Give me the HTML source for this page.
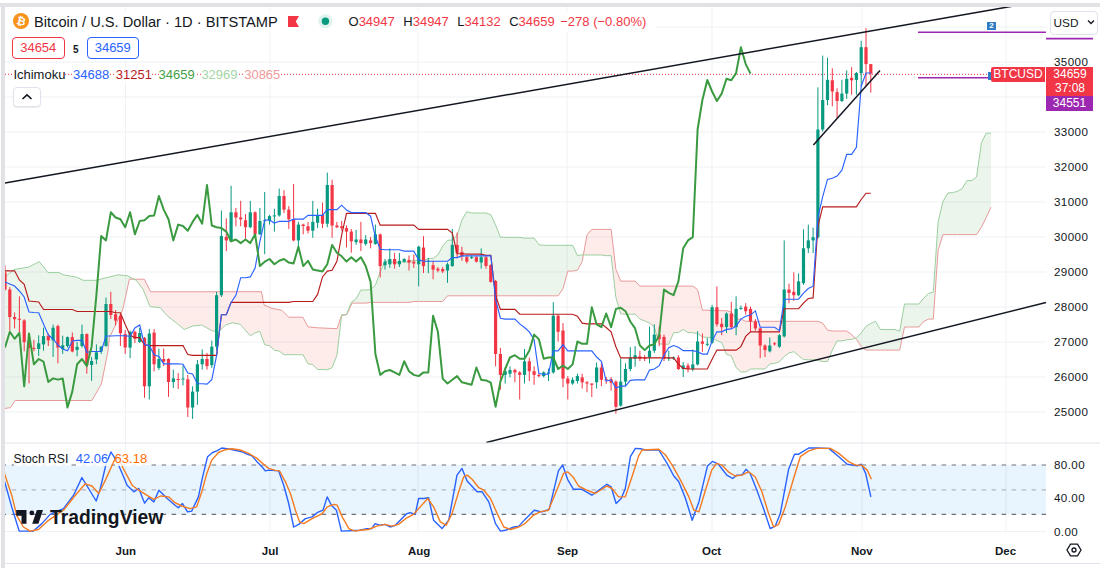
<!DOCTYPE html>
<html><head><meta charset="utf-8">
<style>
html,body{margin:0;padding:0;width:1100px;height:568px;overflow:hidden;background:#fff;}
body{position:relative;font-family:"Liberation Sans",sans-serif;color:#131722;}
.abs{position:absolute;white-space:nowrap;}
svg{position:absolute;left:0;top:0;}
.ax{position:absolute;font-size:11.6px;letter-spacing:0.4px;color:#131722;left:1054px;line-height:14px;}
.tx{position:absolute;font-size:11.5px;font-weight:bold;color:#131722;line-height:14px;}
</style></head><body>
<svg width="1100" height="568" viewBox="0 0 1100 568">
<line x1="5" y1="412" x2="1046" y2="412" stroke="#eff1f5" stroke-width="1"/>
<line x1="5" y1="377" x2="1046" y2="377" stroke="#eff1f5" stroke-width="1"/>
<line x1="5" y1="342" x2="1046" y2="342" stroke="#eff1f5" stroke-width="1"/>
<line x1="5" y1="307" x2="1046" y2="307" stroke="#eff1f5" stroke-width="1"/>
<line x1="5" y1="272" x2="1046" y2="272" stroke="#eff1f5" stroke-width="1"/>
<line x1="5" y1="237" x2="1046" y2="237" stroke="#eff1f5" stroke-width="1"/>
<line x1="5" y1="202" x2="1046" y2="202" stroke="#eff1f5" stroke-width="1"/>
<line x1="5" y1="167" x2="1046" y2="167" stroke="#eff1f5" stroke-width="1"/>
<line x1="5" y1="132" x2="1046" y2="132" stroke="#eff1f5" stroke-width="1"/>
<line x1="5" y1="97" x2="1046" y2="97" stroke="#eff1f5" stroke-width="1"/>
<line x1="5" y1="62" x2="1046" y2="62" stroke="#eff1f5" stroke-width="1"/>
<line x1="5" y1="27" x2="1046" y2="27" stroke="#eff1f5" stroke-width="1"/>
<line x1="125.5" y1="7" x2="125.5" y2="532" stroke="#eff1f5" stroke-width="1"/>
<line x1="270" y1="7" x2="270" y2="532" stroke="#eff1f5" stroke-width="1"/>
<line x1="418" y1="7" x2="418" y2="532" stroke="#eff1f5" stroke-width="1"/>
<line x1="567" y1="7" x2="567" y2="532" stroke="#eff1f5" stroke-width="1"/>
<line x1="712" y1="7" x2="712" y2="532" stroke="#eff1f5" stroke-width="1"/>
<line x1="862" y1="7" x2="862" y2="532" stroke="#eff1f5" stroke-width="1"/>
<line x1="1006" y1="7" x2="1006" y2="532" stroke="#eff1f5" stroke-width="1"/>
<polygon points="5,277 10.3,272.6 14.2,269.4 15.1,269.3 28.4,267.2 39.3,261.7 48,272.6 59,272.6 63.3,274.8 77.5,277.4 83,280.3 91.9,280.3 96.1,280.3 101.4,279 104.8,278.1 107.8,277.3 109.4,276.9 117.9,274.8 122.6,275.3 127.2,275.7 129.4,276.8 134.1,279.2 134.1,279.2 129.4,279.2 127.2,289.2 122.6,310 117.9,319.9 109.4,337.9 107.8,352.2 104.8,367.1 101.4,383.9 96.1,393.2 91.9,400.5 83,400.5 77.5,400.5 63.3,400.5 59,400.5 48,400.5 39.3,400.5 28.4,400.5 15.1,400.5 14.2,401.9 10.3,407.7 5,408.4" fill="rgba(67,160,71,0.10)"/>
<polygon points="134.1,279.2 136.3,280.3 143.2,289.5 144.3,292.3 150,306.6 150.7,306.7 160.4,307.8 167.2,315.8 177.5,323.8 184.4,329.5 192.4,326.1 201.6,325 211.9,330.7 218.7,331.8 225.6,325 232.5,322.7 240.3,324.3 245.5,330.3 250.3,335.8 255.1,332.8 259.9,331.3 261.4,335.4 264,342.7 264.7,344.8 269.5,345.6 272,348 274.4,350.2 279.2,351.1 281.7,353 284,354.7 288.7,354.7 288.8,354.7 293.6,354.7 298.4,354.7 302.8,354.9 303.2,354.9 308,363.8 308.1,363.8 312.8,364.6 317.6,369.5 317.7,369.5 322.5,369.5 327.3,369.8 332.1,367.6 336.9,355.4 337.1,353.6 341.5,316.4 341.6,315.5 341.6,315.5 341.5,315.5 337.1,328.7 336.9,328.7 332.1,328.5 327.3,328.2 322.5,328 317.7,327.8 317.6,327.8 312.8,327.3 308.1,326.9 308,326.8 303.2,318 302.8,317.2 298.4,317.2 293.6,317.2 288.8,317.2 288.7,317.2 284,312.5 281.7,310.2 279.2,309.7 274.4,308.8 272,308.4 269.5,307.3 264.7,305.2 264,304.9 261.4,291.7 259.9,291.7 255.1,291.7 250.3,291.7 245.5,291.7 240.3,291.7 232.5,291.7 225.6,291.7 218.7,291.7 211.9,291.7 201.6,291.8 192.4,291.8 184.4,291.8 177.5,291.8 167.2,291.8 160.4,291.8 150.7,291.8 150,290.4 144.3,279.2 143.2,279.2 136.3,279.2 134.1,279.2" fill="rgba(244,67,54,0.10)"/>
<polygon points="341.6,315.5 341.7,314.7 346.2,314.7 346.2,314.7 341.7,315.5 341.6,315.5" fill="rgba(67,160,71,0.10)"/>
<polygon points="346.2,314.7 346.5,314.7 346.5,314.6 346.5,314.6 346.5,314.6 346.2,314.7" fill="rgba(244,67,54,0.10)"/>
<polygon points="346.5,314.6 346.8,314 351.3,302.4 352.1,301.8 356.1,298.8 360.9,290 365.7,290 366,290 370.6,289.6 375.4,285.2 380.2,271.9 385,261.2 389.8,261.2 394.6,262.7 399.4,261.9 404.2,261.9 409,261.9 413.8,260.3 418.7,260.3 423.5,260.3 428.3,258.4 433.1,258.4 437.9,254.9 442.7,246.1 447.5,240.4 452.3,239.9 457.1,235.5 461.9,220 466.8,211.7 471.6,213 476.4,213 481.2,213 486,213 490.8,214.8 495.6,225.1 500.4,237.2 505.2,237.4 510,237.4 514.9,237.4 519.7,237.4 524.5,238.1 529.3,238.1 534.1,238.1 538.9,244.7 543.7,245.3 548.5,245.3 553.3,245.3 558.1,245.3 563,245.3 567.8,245.3 572.6,245.3 577.4,255.6 582.2,254.8 583.4,254.8 583.4,254.8 582.2,261.4 577.4,270.2 572.6,271.1 567.8,271.1 563,288.7 558.1,295.8 553.3,295.8 548.5,295.8 543.7,295.8 538.9,295.8 534.1,295.8 529.3,295.8 524.5,295.8 519.7,295.8 514.9,295.8 510,295.8 505.2,295.8 500.4,295.8 495.6,295.8 490.8,295.8 486,295.8 481.2,295.8 476.4,295.8 471.6,295.8 466.8,295.8 461.9,295.8 457.1,295.8 452.3,295.8 447.5,295.8 442.7,301.5 437.9,301.5 433.1,301.5 428.3,301.5 423.5,301.5 418.7,301.5 413.8,301.5 409,302.4 404.2,302.4 399.4,302.4 394.6,302.4 389.8,302.4 385,302.4 380.2,302.4 375.4,302.4 370.6,302.4 366,303.1 365.7,303.1 360.9,303.1 356.1,303.1 352.1,303.1 351.3,304.8 346.8,314.6 346.5,314.6" fill="rgba(67,160,71,0.10)"/>
<polygon points="583.4,254.8 587,255 591.8,255 596.6,255 601.4,255 606.2,255.7 611.1,255.6 615.9,297.4 620.7,313.8 625.5,314.2 630.3,314.2 635.1,314.2 639.9,319.1 644.7,320.9 649.5,323.1 654.3,327 659.2,343.9 664,344.2 668.8,344.2 673.6,332.6 678.4,332.6 683.2,329.5 688,332.6 692.8,332.6 697.6,333.5 702.4,337 707.3,337.4 712.1,337.4 716.9,340.5 721.7,342.6 726.5,354.3 731.3,355.9 736.1,367.5 740.9,372 745.7,372 750.5,369.1 755.4,368.9 760.2,368.9 765,368.9 769.8,364 774.6,363.4 779.4,361.7 784.2,356.6 789,352.9 793.8,351.7 798.6,355.6 803.5,359.5 808.3,359.8 813.1,359.8 817.9,360.4 822.7,361.5 827.5,361.5 832.3,350.1 837.1,340.9 841.9,340.9 846.7,339.8 851.6,339.5 855.6,338.3 855.6,338.3 851.6,334.6 846.7,331 841.9,331 837.1,331 832.3,331 827.5,330.1 822.7,323.1 817.9,321.3 813.1,321.3 808.3,321.3 803.5,321.3 798.6,321.3 793.8,321.3 789,321.3 784.2,321.3 779.4,321.3 774.6,321.3 769.8,321.3 765,321.3 760.2,321.3 755.4,321.3 750.5,321.3 745.7,321.3 740.9,319.1 736.1,319.1 731.3,312.1 726.5,310.7 721.7,310.7 716.9,310.7 712.1,310.7 707.3,310.2 702.4,310.2 697.6,289.6 692.8,286.1 688,286.1 683.2,286.1 678.4,286.1 673.6,286.1 668.8,286.1 664,286.1 659.2,286.1 654.3,286.1 649.5,286.1 644.7,286.1 639.9,286.1 635.1,281.1 630.3,281.1 625.5,281.1 620.7,281.1 615.9,269.4 611.1,229.4 606.2,229.4 601.4,229.4 596.6,229.4 591.8,229.4 587,234.8 583.4,254.8" fill="rgba(244,67,54,0.10)"/>
<polygon points="855.6,338.3 856.4,338 861.2,332.9 866,326.3 870.8,323.4 875.6,321.3 880.4,329.5 885.2,329.5 890,329.5 894.8,329.5 899.7,331.2 904.5,304 909.3,304 914.1,304 918.9,304 923.7,298.1 928.5,293.5 933.3,292.1 938.1,222 942.9,201.7 947.8,193.1 952.6,192.6 957.4,191.4 962.2,188.5 967,180.6 971.8,180.6 976.6,177 981.4,142.8 986.2,133.1 991,133.1 991,207.2 986.2,217.5 981.4,227.2 976.6,234.6 971.8,234.6 967,234.6 962.2,234.6 957.4,234.6 952.6,234.6 947.8,234.6 942.9,234.6 938.1,250.5 933.3,319.1 928.5,319.1 923.7,321.5 918.9,327 914.1,327 909.3,327 904.5,327 899.7,350.1 894.8,350.1 890,350.1 885.2,350.1 880.4,350.1 875.6,350.1 870.8,350.1 866,350.1 861.2,346.8 856.4,339 855.6,338.3" fill="rgba(67,160,71,0.10)"/>
<polyline points="5,408.4 10.3,407.7 15.1,400.5 91.9,400.5 101.4,383.9 107.8,352.2 109.4,337.9 122.6,310 129.4,279.2 144.3,279.2 150.7,291.8 261.4,291.7 264,304.9 272,308.4 281.7,310.2 288.7,317.2 302.8,317.2 308.1,326.9 317.7,327.8 337.1,328.7 341.5,315.5 346.8,314.6 352.1,303.1 366,303.1 370.6,302.4 375.4,302.4 380.2,302.4 385,302.4 389.8,302.4 394.6,302.4 399.4,302.4 404.2,302.4 409,302.4 413.8,301.5 418.7,301.5 423.5,301.5 428.3,301.5 433.1,301.5 437.9,301.5 442.7,301.5 447.5,295.8 452.3,295.8 457.1,295.8 461.9,295.8 466.8,295.8 471.6,295.8 476.4,295.8 481.2,295.8 486,295.8 490.8,295.8 495.6,295.8 500.4,295.8 505.2,295.8 510,295.8 514.9,295.8 519.7,295.8 524.5,295.8 529.3,295.8 534.1,295.8 538.9,295.8 543.7,295.8 548.5,295.8 553.3,295.8 558.1,295.8 563,288.7 567.8,271.1 572.6,271.1 577.4,270.2 582.2,261.4 587,234.8 591.8,229.4 596.6,229.4 601.4,229.4 606.2,229.4 611.1,229.4 615.9,269.4 620.7,281.1 625.5,281.1 630.3,281.1 635.1,281.1 639.9,286.1 644.7,286.1 649.5,286.1 654.3,286.1 659.2,286.1 664,286.1 668.8,286.1 673.6,286.1 678.4,286.1 683.2,286.1 688,286.1 692.8,286.1 697.6,289.6 702.4,310.2 707.3,310.2 712.1,310.7 716.9,310.7 721.7,310.7 726.5,310.7 731.3,312.1 736.1,319.1 740.9,319.1 745.7,321.3 750.5,321.3 755.4,321.3 760.2,321.3 765,321.3 769.8,321.3 774.6,321.3 779.4,321.3 784.2,321.3 789,321.3 793.8,321.3 798.6,321.3 803.5,321.3 808.3,321.3 813.1,321.3 817.9,321.3 822.7,323.1 827.5,330.1 832.3,331 837.1,331 841.9,331 846.7,331 851.6,334.6 856.4,339 861.2,346.8 866,350.1 870.8,350.1 875.6,350.1 880.4,350.1 885.2,350.1 890,350.1 894.8,350.1 899.7,350.1 904.5,327 909.3,327 914.1,327 918.9,327 923.7,321.5 928.5,319.1 933.3,319.1 938.1,250.5 942.9,234.6 947.8,234.6 952.6,234.6 957.4,234.6 962.2,234.6 967,234.6 971.8,234.6 976.6,234.6 981.4,227.2 986.2,217.5 991,207.2" fill="none" stroke="#e89a9a" stroke-width="1"/>
<polyline points="5,277 14.2,269.4 28.4,267.2 39.3,261.7 48,272.6 59,272.6 63.3,274.8 77.5,277.4 83,280.3 96.1,280.3 104.8,278.1 117.9,274.8 127.2,275.7 136.3,280.3 143.2,289.5 150,306.6 160.4,307.8 167.2,315.8 177.5,323.8 184.4,329.5 192.4,326.1 201.6,325 211.9,330.7 218.7,331.8 225.6,325 232.5,322.7 240.3,324.3 245.5,330.3 250.3,335.8 255.1,332.8 259.9,331.3 264.7,344.8 269.5,345.6 274.4,350.2 279.2,351.1 284,354.7 288.8,354.7 293.6,354.7 298.4,354.7 303.2,354.9 308,363.8 312.8,364.6 317.6,369.5 322.5,369.5 327.3,369.8 332.1,367.6 336.9,355.4 341.7,314.7 346.5,314.7 351.3,302.4 356.1,298.8 360.9,290 365.7,290 370.6,289.6 375.4,285.2 380.2,271.9 385,261.2 389.8,261.2 394.6,262.7 399.4,261.9 404.2,261.9 409,261.9 413.8,260.3 418.7,260.3 423.5,260.3 428.3,258.4 433.1,258.4 437.9,254.9 442.7,246.1 447.5,240.4 452.3,239.9 457.1,235.5 461.9,220 466.8,211.7 471.6,213 476.4,213 481.2,213 486,213 490.8,214.8 495.6,225.1 500.4,237.2 505.2,237.4 510,237.4 514.9,237.4 519.7,237.4 524.5,238.1 529.3,238.1 534.1,238.1 538.9,244.7 543.7,245.3 548.5,245.3 553.3,245.3 558.1,245.3 563,245.3 567.8,245.3 572.6,245.3 577.4,255.6 582.2,254.8 587,255 591.8,255 596.6,255 601.4,255 606.2,255.7 611.1,255.6 615.9,297.4 620.7,313.8 625.5,314.2 630.3,314.2 635.1,314.2 639.9,319.1 644.7,320.9 649.5,323.1 654.3,327 659.2,343.9 664,344.2 668.8,344.2 673.6,332.6 678.4,332.6 683.2,329.5 688,332.6 692.8,332.6 697.6,333.5 702.4,337 707.3,337.4 712.1,337.4 716.9,340.5 721.7,342.6 726.5,354.3 731.3,355.9 736.1,367.5 740.9,372 745.7,372 750.5,369.1 755.4,368.9 760.2,368.9 765,368.9 769.8,364 774.6,363.4 779.4,361.7 784.2,356.6 789,352.9 793.8,351.7 798.6,355.6 803.5,359.5 808.3,359.8 813.1,359.8 817.9,360.4 822.7,361.5 827.5,361.5 832.3,350.1 837.1,340.9 841.9,340.9 846.7,339.8 851.6,339.5 856.4,338 861.2,332.9 866,326.3 870.8,323.4 875.6,321.3 880.4,329.5 885.2,329.5 890,329.5 894.8,329.5 899.7,331.2 904.5,304 909.3,304 914.1,304 918.9,304 923.7,298.1 928.5,293.5 933.3,292.1 938.1,222 942.9,201.7 947.8,193.1 952.6,192.6 957.4,191.4 962.2,188.5 967,180.6 971.8,180.6 976.6,177 981.4,142.8 986.2,133.1 991,133.1" fill="none" stroke="#9ccf9f" stroke-width="1"/>
<line x1="5" y1="74.3" x2="991" y2="74.3" stroke="#f23645" stroke-width="1" stroke-dasharray="1,2"/>
<line x1="5" y1="265.4" x2="5" y2="290.6" stroke="#f23645" stroke-width="1"/>
<rect x="3.4" y="272.3" width="3.2" height="17.2" fill="#f23645"/>
<line x1="9.8" y1="287.2" x2="9.8" y2="330.7" stroke="#f23645" stroke-width="1"/>
<rect x="8.2" y="289.5" width="3.2" height="27.5" fill="#f23645"/>
<line x1="14.6" y1="312.4" x2="14.6" y2="328.4" stroke="#f23645" stroke-width="1"/>
<rect x="13" y="317" width="3.2" height="2.2" fill="#f23645"/>
<line x1="19.4" y1="296.3" x2="19.4" y2="337.5" stroke="#f23645" stroke-width="1"/>
<rect x="17.8" y="318.8" width="3.2" height="1" fill="#f23645"/>
<line x1="24.2" y1="319.2" x2="24.2" y2="351.3" stroke="#f23645" stroke-width="1"/>
<rect x="22.6" y="320.4" width="3.2" height="21.7" fill="#f23645"/>
<line x1="29" y1="333" x2="29" y2="383.3" stroke="#f23645" stroke-width="1"/>
<rect x="27.4" y="341" width="3.2" height="6.9" fill="#f23645"/>
<line x1="33.9" y1="339.8" x2="33.9" y2="351.3" stroke="#f23645" stroke-width="1"/>
<rect x="32.3" y="347.9" width="3.2" height="1.1" fill="#f23645"/>
<line x1="38.7" y1="335.3" x2="38.7" y2="355.9" stroke="#089981" stroke-width="1"/>
<rect x="37.1" y="343.3" width="3.2" height="5.7" fill="#089981"/>
<line x1="43.5" y1="327.7" x2="43.5" y2="350.7" stroke="#089981" stroke-width="1"/>
<rect x="41.9" y="336.1" width="3.2" height="8.3" fill="#089981"/>
<line x1="48.3" y1="333.3" x2="48.3" y2="346" stroke="#f23645" stroke-width="1"/>
<rect x="46.7" y="335.7" width="3.2" height="4.7" fill="#f23645"/>
<line x1="53.1" y1="324.6" x2="53.1" y2="357" stroke="#089981" stroke-width="1"/>
<rect x="51.5" y="327.7" width="3.2" height="12.7" fill="#089981"/>
<line x1="57.9" y1="324.6" x2="57.9" y2="363.4" stroke="#f23645" stroke-width="1"/>
<rect x="56.3" y="326.1" width="3.2" height="21.4" fill="#f23645"/>
<line x1="62.7" y1="335.7" x2="62.7" y2="353.9" stroke="#089981" stroke-width="1"/>
<rect x="61.1" y="345.2" width="3.2" height="3.9" fill="#089981"/>
<line x1="67.5" y1="336.5" x2="67.5" y2="347.5" stroke="#089981" stroke-width="1"/>
<rect x="65.9" y="337.2" width="3.2" height="8.8" fill="#089981"/>
<line x1="72.3" y1="332.5" x2="72.3" y2="352.3" stroke="#f23645" stroke-width="1"/>
<rect x="70.7" y="337.2" width="3.2" height="14.3" fill="#f23645"/>
<line x1="77.1" y1="342" x2="77.1" y2="356.3" stroke="#089981" stroke-width="1"/>
<rect x="75.5" y="346.8" width="3.2" height="3.1" fill="#089981"/>
<line x1="82" y1="324.6" x2="82" y2="347.5" stroke="#089981" stroke-width="1"/>
<rect x="80.4" y="334.1" width="3.2" height="11.9" fill="#089981"/>
<line x1="86.8" y1="333.3" x2="86.8" y2="373.7" stroke="#f23645" stroke-width="1"/>
<rect x="85.2" y="334.1" width="3.2" height="30.9" fill="#f23645"/>
<line x1="91.6" y1="357" x2="91.6" y2="380.8" stroke="#089981" stroke-width="1"/>
<rect x="90" y="361" width="3.2" height="4" fill="#089981"/>
<line x1="96.4" y1="344.4" x2="96.4" y2="364.2" stroke="#089981" stroke-width="1"/>
<rect x="94.8" y="352.3" width="3.2" height="7.1" fill="#089981"/>
<line x1="101.2" y1="346" x2="101.2" y2="353.9" stroke="#089981" stroke-width="1"/>
<rect x="99.6" y="346.8" width="3.2" height="4.7" fill="#089981"/>
<line x1="106" y1="297.5" x2="106" y2="346.8" stroke="#089981" stroke-width="1"/>
<rect x="104.4" y="304" width="3.2" height="42" fill="#089981"/>
<line x1="110.8" y1="291.8" x2="110.8" y2="319" stroke="#f23645" stroke-width="1"/>
<rect x="109.2" y="304" width="3.2" height="11" fill="#f23645"/>
<line x1="115.6" y1="310" x2="115.6" y2="325.4" stroke="#f23645" stroke-width="1"/>
<rect x="114" y="314.3" width="3.2" height="6.3" fill="#f23645"/>
<line x1="120.4" y1="313.5" x2="120.4" y2="346" stroke="#f23645" stroke-width="1"/>
<rect x="118.8" y="315.8" width="3.2" height="17.5" fill="#f23645"/>
<line x1="125.2" y1="330.1" x2="125.2" y2="353.9" stroke="#f23645" stroke-width="1"/>
<rect x="123.6" y="334.1" width="3.2" height="13.4" fill="#f23645"/>
<line x1="130.1" y1="330.7" x2="130.1" y2="358.2" stroke="#089981" stroke-width="1"/>
<rect x="128.5" y="331.8" width="3.2" height="15.8" fill="#089981"/>
<line x1="134.9" y1="330.7" x2="134.9" y2="343.2" stroke="#f23645" stroke-width="1"/>
<rect x="133.3" y="331.8" width="3.2" height="7" fill="#f23645"/>
<line x1="139.7" y1="328" x2="139.7" y2="343" stroke="#089981" stroke-width="1"/>
<rect x="138.1" y="333" width="3.2" height="9" fill="#089981"/>
<line x1="144.5" y1="337" x2="144.5" y2="397.8" stroke="#f23645" stroke-width="1"/>
<rect x="142.9" y="337.9" width="3.2" height="48.4" fill="#f23645"/>
<line x1="149.3" y1="329" x2="149.3" y2="399.5" stroke="#089981" stroke-width="1"/>
<rect x="147.7" y="333.5" width="3.2" height="52.8" fill="#089981"/>
<line x1="154.1" y1="329" x2="154.1" y2="371.4" stroke="#f23645" stroke-width="1"/>
<rect x="152.5" y="332.6" width="3.2" height="31.7" fill="#f23645"/>
<line x1="158.9" y1="348.5" x2="158.9" y2="370" stroke="#089981" stroke-width="1"/>
<rect x="157.3" y="359" width="3.2" height="8.9" fill="#089981"/>
<line x1="163.7" y1="348.5" x2="163.7" y2="366" stroke="#f23645" stroke-width="1"/>
<rect x="162.1" y="359" width="3.2" height="2.7" fill="#f23645"/>
<line x1="168.5" y1="358.2" x2="168.5" y2="396.9" stroke="#f23645" stroke-width="1"/>
<rect x="166.9" y="359" width="3.2" height="23" fill="#f23645"/>
<line x1="173.3" y1="369.6" x2="173.3" y2="388.1" stroke="#089981" stroke-width="1"/>
<rect x="171.8" y="378.4" width="3.2" height="3.6" fill="#089981"/>
<line x1="178.2" y1="373.1" x2="178.2" y2="389" stroke="#f23645" stroke-width="1"/>
<rect x="176.6" y="379" width="3.2" height="1" fill="#f23645"/>
<line x1="183" y1="365.3" x2="183" y2="385.4" stroke="#089981" stroke-width="1"/>
<rect x="181.4" y="378.5" width="3.2" height="1" fill="#089981"/>
<line x1="187.8" y1="374.9" x2="187.8" y2="417.1" stroke="#f23645" stroke-width="1"/>
<rect x="186.2" y="379.3" width="3.2" height="28.2" fill="#f23645"/>
<line x1="192.6" y1="386.3" x2="192.6" y2="418.9" stroke="#089981" stroke-width="1"/>
<rect x="191" y="391.6" width="3.2" height="15.9" fill="#089981"/>
<line x1="197.4" y1="359.9" x2="197.4" y2="404.8" stroke="#089981" stroke-width="1"/>
<rect x="195.8" y="364.3" width="3.2" height="27.3" fill="#089981"/>
<line x1="202.2" y1="349.4" x2="202.2" y2="369.6" stroke="#089981" stroke-width="1"/>
<rect x="200.6" y="359" width="3.2" height="5.3" fill="#089981"/>
<line x1="207" y1="352.9" x2="207" y2="369.6" stroke="#f23645" stroke-width="1"/>
<rect x="205.4" y="359" width="3.2" height="7.1" fill="#f23645"/>
<line x1="211.8" y1="340.6" x2="211.8" y2="367.9" stroke="#089981" stroke-width="1"/>
<rect x="210.2" y="346.7" width="3.2" height="18.5" fill="#089981"/>
<line x1="216.6" y1="291.8" x2="216.6" y2="350.1" stroke="#089981" stroke-width="1"/>
<rect x="215" y="295.2" width="3.2" height="51.5" fill="#089981"/>
<line x1="221.4" y1="210.5" x2="221.4" y2="297" stroke="#089981" stroke-width="1"/>
<rect x="219.8" y="236" width="3.2" height="59.2" fill="#089981"/>
<line x1="226.3" y1="218.4" x2="226.3" y2="251" stroke="#f23645" stroke-width="1"/>
<rect x="224.7" y="236.9" width="3.2" height="3.5" fill="#f23645"/>
<line x1="231.1" y1="185.8" x2="231.1" y2="242.2" stroke="#089981" stroke-width="1"/>
<rect x="229.5" y="212.3" width="3.2" height="29" fill="#089981"/>
<line x1="235.9" y1="207.9" x2="235.9" y2="226.3" stroke="#f23645" stroke-width="1"/>
<rect x="234.3" y="212.3" width="3.2" height="5.2" fill="#f23645"/>
<line x1="240.7" y1="200.8" x2="240.7" y2="226.3" stroke="#f23645" stroke-width="1"/>
<rect x="239.1" y="217.5" width="3.2" height="1.8" fill="#f23645"/>
<line x1="245.5" y1="214" x2="245.5" y2="238.7" stroke="#f23645" stroke-width="1"/>
<rect x="243.9" y="220.2" width="3.2" height="7" fill="#f23645"/>
<line x1="250.3" y1="200.8" x2="250.3" y2="228.1" stroke="#089981" stroke-width="1"/>
<rect x="248.7" y="212.3" width="3.2" height="14.9" fill="#089981"/>
<line x1="255.1" y1="211.4" x2="255.1" y2="236" stroke="#f23645" stroke-width="1"/>
<rect x="253.5" y="212.3" width="3.2" height="22" fill="#f23645"/>
<line x1="259.9" y1="207.9" x2="259.9" y2="234.8" stroke="#089981" stroke-width="1"/>
<rect x="258.3" y="221" width="3.2" height="13.3" fill="#089981"/>
<line x1="264.7" y1="192" x2="264.7" y2="254.2" stroke="#089981" stroke-width="1"/>
<rect x="263.1" y="220.2" width="3.2" height="1" fill="#089981"/>
<line x1="269.5" y1="214.9" x2="269.5" y2="224.6" stroke="#089981" stroke-width="1"/>
<rect x="267.9" y="216.1" width="3.2" height="4.9" fill="#089981"/>
<line x1="274.4" y1="208.7" x2="274.4" y2="231.6" stroke="#089981" stroke-width="1"/>
<rect x="272.8" y="215.4" width="3.2" height="1" fill="#089981"/>
<line x1="279.2" y1="188.5" x2="279.2" y2="216.7" stroke="#089981" stroke-width="1"/>
<rect x="277.6" y="196" width="3.2" height="19.4" fill="#089981"/>
<line x1="284" y1="190.2" x2="284" y2="213.1" stroke="#f23645" stroke-width="1"/>
<rect x="282.4" y="196" width="3.2" height="13.6" fill="#f23645"/>
<line x1="288.8" y1="206.1" x2="288.8" y2="229" stroke="#f23645" stroke-width="1"/>
<rect x="287.2" y="209.6" width="3.2" height="9.7" fill="#f23645"/>
<line x1="293.6" y1="184.1" x2="293.6" y2="241.3" stroke="#f23645" stroke-width="1"/>
<rect x="292" y="219.3" width="3.2" height="21.1" fill="#f23645"/>
<line x1="298.4" y1="221.9" x2="298.4" y2="246.6" stroke="#089981" stroke-width="1"/>
<rect x="296.8" y="224.6" width="3.2" height="15.8" fill="#089981"/>
<line x1="303.2" y1="223.7" x2="303.2" y2="234.3" stroke="#f23645" stroke-width="1"/>
<rect x="301.6" y="224.6" width="3.2" height="1.4" fill="#f23645"/>
<line x1="308" y1="221.9" x2="308" y2="233.4" stroke="#f23645" stroke-width="1"/>
<rect x="306.4" y="226.3" width="3.2" height="4.4" fill="#f23645"/>
<line x1="312.8" y1="200.8" x2="312.8" y2="237.8" stroke="#089981" stroke-width="1"/>
<rect x="311.2" y="221.9" width="3.2" height="8.8" fill="#089981"/>
<line x1="317.6" y1="208.7" x2="317.6" y2="228.1" stroke="#089981" stroke-width="1"/>
<rect x="316" y="214.9" width="3.2" height="7.9" fill="#089981"/>
<line x1="322.5" y1="202.6" x2="322.5" y2="228.1" stroke="#f23645" stroke-width="1"/>
<rect x="320.9" y="214.9" width="3.2" height="8.8" fill="#f23645"/>
<line x1="327.3" y1="172.6" x2="327.3" y2="227.2" stroke="#089981" stroke-width="1"/>
<rect x="325.7" y="185" width="3.2" height="38.7" fill="#089981"/>
<line x1="332.1" y1="179.7" x2="332.1" y2="237.8" stroke="#f23645" stroke-width="1"/>
<rect x="330.5" y="185" width="3.2" height="40.5" fill="#f23645"/>
<line x1="336.9" y1="221.9" x2="336.9" y2="228.1" stroke="#f23645" stroke-width="1"/>
<rect x="335.3" y="225.5" width="3.2" height="1.7" fill="#f23645"/>
<line x1="341.7" y1="221" x2="341.7" y2="230.7" stroke="#f23645" stroke-width="1"/>
<rect x="340.1" y="226.3" width="3.2" height="1.8" fill="#f23645"/>
<line x1="346.5" y1="225.5" x2="346.5" y2="247.5" stroke="#f23645" stroke-width="1"/>
<rect x="344.9" y="228.1" width="3.2" height="3.5" fill="#f23645"/>
<line x1="351.3" y1="229" x2="351.3" y2="252.7" stroke="#f23645" stroke-width="1"/>
<rect x="349.7" y="231.6" width="3.2" height="9.7" fill="#f23645"/>
<line x1="356.1" y1="229.9" x2="356.1" y2="244.8" stroke="#089981" stroke-width="1"/>
<rect x="354.5" y="239.5" width="3.2" height="2.7" fill="#089981"/>
<line x1="360.9" y1="221.9" x2="360.9" y2="251" stroke="#f23645" stroke-width="1"/>
<rect x="359.3" y="239.5" width="3.2" height="3.6" fill="#f23645"/>
<line x1="365.7" y1="235.1" x2="365.7" y2="245.7" stroke="#089981" stroke-width="1"/>
<rect x="364.1" y="239.5" width="3.2" height="4.4" fill="#089981"/>
<line x1="370.6" y1="236.9" x2="370.6" y2="248.3" stroke="#f23645" stroke-width="1"/>
<rect x="369" y="240.4" width="3.2" height="2.7" fill="#f23645"/>
<line x1="375.4" y1="224.6" x2="375.4" y2="244.8" stroke="#089981" stroke-width="1"/>
<rect x="373.8" y="234.3" width="3.2" height="9.6" fill="#089981"/>
<line x1="380.2" y1="233.5" x2="380.2" y2="277.5" stroke="#f23645" stroke-width="1"/>
<rect x="378.6" y="234.4" width="3.2" height="31.7" fill="#f23645"/>
<line x1="385" y1="259" x2="385" y2="269.6" stroke="#089981" stroke-width="1"/>
<rect x="383.4" y="261.7" width="3.2" height="3.5" fill="#089981"/>
<line x1="389.8" y1="248.5" x2="389.8" y2="267.9" stroke="#089981" stroke-width="1"/>
<rect x="388.2" y="259" width="3.2" height="5.3" fill="#089981"/>
<line x1="394.6" y1="252.9" x2="394.6" y2="268.7" stroke="#f23645" stroke-width="1"/>
<rect x="393" y="259" width="3.2" height="5.3" fill="#f23645"/>
<line x1="399.4" y1="252.9" x2="399.4" y2="267" stroke="#089981" stroke-width="1"/>
<rect x="397.8" y="260.8" width="3.2" height="3.5" fill="#089981"/>
<line x1="404.2" y1="258.2" x2="404.2" y2="262.6" stroke="#089981" stroke-width="1"/>
<rect x="402.6" y="259" width="3.2" height="2.7" fill="#089981"/>
<line x1="409" y1="255.5" x2="409" y2="270.5" stroke="#f23645" stroke-width="1"/>
<rect x="407.4" y="259.9" width="3.2" height="2.7" fill="#f23645"/>
<line x1="413.8" y1="254.6" x2="413.8" y2="267.9" stroke="#f23645" stroke-width="1"/>
<rect x="412.2" y="261.7" width="3.2" height="1.8" fill="#f23645"/>
<line x1="418.7" y1="245.8" x2="418.7" y2="286.3" stroke="#089981" stroke-width="1"/>
<rect x="417.1" y="246.7" width="3.2" height="17.6" fill="#089981"/>
<line x1="423.5" y1="236.2" x2="423.5" y2="273.1" stroke="#f23645" stroke-width="1"/>
<rect x="421.9" y="247.6" width="3.2" height="18.5" fill="#f23645"/>
<line x1="428.3" y1="258.2" x2="428.3" y2="273.1" stroke="#089981" stroke-width="1"/>
<rect x="426.7" y="260.8" width="3.2" height="1" fill="#089981"/>
<line x1="433.1" y1="260.8" x2="433.1" y2="279.3" stroke="#f23645" stroke-width="1"/>
<rect x="431.5" y="265.2" width="3.2" height="4.4" fill="#f23645"/>
<line x1="437.9" y1="267" x2="437.9" y2="272.3" stroke="#f23645" stroke-width="1"/>
<rect x="436.3" y="268.7" width="3.2" height="1.8" fill="#f23645"/>
<line x1="442.7" y1="267" x2="442.7" y2="273.1" stroke="#f23645" stroke-width="1"/>
<rect x="441.1" y="269" width="3.2" height="2.4" fill="#f23645"/>
<line x1="447.5" y1="262.6" x2="447.5" y2="282.8" stroke="#089981" stroke-width="1"/>
<rect x="445.9" y="264.3" width="3.2" height="6.2" fill="#089981"/>
<line x1="452.3" y1="229" x2="452.3" y2="266.9" stroke="#089981" stroke-width="1"/>
<rect x="450.7" y="244.9" width="3.2" height="21.1" fill="#089981"/>
<line x1="457.1" y1="232.6" x2="457.1" y2="258.1" stroke="#f23645" stroke-width="1"/>
<rect x="455.5" y="244.9" width="3.2" height="7.9" fill="#f23645"/>
<line x1="461.9" y1="246.7" x2="461.9" y2="260.7" stroke="#f23645" stroke-width="1"/>
<rect x="460.3" y="251.9" width="3.2" height="4.4" fill="#f23645"/>
<line x1="466.8" y1="255.5" x2="466.8" y2="263.4" stroke="#f23645" stroke-width="1"/>
<rect x="465.2" y="257.2" width="3.2" height="4.4" fill="#f23645"/>
<line x1="471.6" y1="255.5" x2="471.6" y2="259" stroke="#089981" stroke-width="1"/>
<rect x="470" y="257.2" width="3.2" height="1" fill="#089981"/>
<line x1="476.4" y1="256.3" x2="476.4" y2="262.5" stroke="#f23645" stroke-width="1"/>
<rect x="474.8" y="257.2" width="3.2" height="4.4" fill="#f23645"/>
<line x1="481.2" y1="248.4" x2="481.2" y2="268.7" stroke="#089981" stroke-width="1"/>
<rect x="479.6" y="257.2" width="3.2" height="5.3" fill="#089981"/>
<line x1="486" y1="255.5" x2="486" y2="268.7" stroke="#f23645" stroke-width="1"/>
<rect x="484.4" y="257.2" width="3.2" height="8.8" fill="#f23645"/>
<line x1="490.8" y1="264.3" x2="490.8" y2="282.7" stroke="#f23645" stroke-width="1"/>
<rect x="489.2" y="265.1" width="3.2" height="16.8" fill="#f23645"/>
<line x1="495.6" y1="280" x2="495.6" y2="366.3" stroke="#f23645" stroke-width="1"/>
<rect x="494" y="281" width="3.2" height="73" fill="#f23645"/>
<line x1="500.4" y1="347.8" x2="500.4" y2="389.7" stroke="#f23645" stroke-width="1"/>
<rect x="498.8" y="354" width="3.2" height="20.9" fill="#f23645"/>
<line x1="505.2" y1="367.5" x2="505.2" y2="383.5" stroke="#089981" stroke-width="1"/>
<rect x="503.6" y="371.2" width="3.2" height="3.7" fill="#089981"/>
<line x1="510" y1="366.3" x2="510" y2="377.4" stroke="#089981" stroke-width="1"/>
<rect x="508.4" y="370" width="3.2" height="3.7" fill="#089981"/>
<line x1="514.9" y1="368.7" x2="514.9" y2="382.3" stroke="#f23645" stroke-width="1"/>
<rect x="513.3" y="370" width="3.2" height="2.4" fill="#f23645"/>
<line x1="519.7" y1="371.2" x2="519.7" y2="399.5" stroke="#f23645" stroke-width="1"/>
<rect x="518.1" y="372.4" width="3.2" height="2.5" fill="#f23645"/>
<line x1="524.5" y1="349" x2="524.5" y2="383.5" stroke="#089981" stroke-width="1"/>
<rect x="522.9" y="361.3" width="3.2" height="13.6" fill="#089981"/>
<line x1="529.3" y1="357.6" x2="529.3" y2="381" stroke="#f23645" stroke-width="1"/>
<rect x="527.7" y="361.3" width="3.2" height="9.9" fill="#f23645"/>
<line x1="534.1" y1="366.3" x2="534.1" y2="384.8" stroke="#f23645" stroke-width="1"/>
<rect x="532.5" y="371.2" width="3.2" height="3.7" fill="#f23645"/>
<line x1="538.9" y1="373.7" x2="538.9" y2="377.4" stroke="#f23645" stroke-width="1"/>
<rect x="537.3" y="374.9" width="3.2" height="1.2" fill="#f23645"/>
<line x1="543.7" y1="371.2" x2="543.7" y2="377.4" stroke="#089981" stroke-width="1"/>
<rect x="542.1" y="372.4" width="3.2" height="3.7" fill="#089981"/>
<line x1="548.5" y1="368.7" x2="548.5" y2="381" stroke="#089981" stroke-width="1"/>
<rect x="546.9" y="372.4" width="3.2" height="1.3" fill="#089981"/>
<line x1="553.3" y1="302.2" x2="553.3" y2="373.7" stroke="#089981" stroke-width="1"/>
<rect x="551.7" y="315.7" width="3.2" height="56.7" fill="#089981"/>
<line x1="558.1" y1="314.5" x2="558.1" y2="341.6" stroke="#f23645" stroke-width="1"/>
<rect x="556.5" y="315.7" width="3.2" height="16.1" fill="#f23645"/>
<line x1="563" y1="323.1" x2="563" y2="387.2" stroke="#f23645" stroke-width="1"/>
<rect x="561.4" y="330.5" width="3.2" height="48.1" fill="#f23645"/>
<line x1="567.8" y1="376.1" x2="567.8" y2="399.5" stroke="#f23645" stroke-width="1"/>
<rect x="566.2" y="378.6" width="3.2" height="4.9" fill="#f23645"/>
<line x1="572.6" y1="377.4" x2="572.6" y2="384.8" stroke="#089981" stroke-width="1"/>
<rect x="571" y="379.8" width="3.2" height="3.7" fill="#089981"/>
<line x1="577.4" y1="373.7" x2="577.4" y2="383.5" stroke="#089981" stroke-width="1"/>
<rect x="575.8" y="376.1" width="3.2" height="4.9" fill="#089981"/>
<line x1="582.2" y1="373.7" x2="582.2" y2="388.5" stroke="#f23645" stroke-width="1"/>
<rect x="580.6" y="377.4" width="3.2" height="4.9" fill="#f23645"/>
<line x1="587" y1="381" x2="587" y2="392.2" stroke="#f23645" stroke-width="1"/>
<rect x="585.4" y="382.3" width="3.2" height="1.2" fill="#f23645"/>
<line x1="591.8" y1="383.5" x2="591.8" y2="397" stroke="#f23645" stroke-width="1"/>
<rect x="590.2" y="383.5" width="3.2" height="1.3" fill="#f23645"/>
<line x1="596.6" y1="362.6" x2="596.6" y2="388.5" stroke="#089981" stroke-width="1"/>
<rect x="595" y="367.5" width="3.2" height="14.8" fill="#089981"/>
<line x1="601.4" y1="362.6" x2="601.4" y2="386" stroke="#f23645" stroke-width="1"/>
<rect x="599.8" y="367.5" width="3.2" height="12.3" fill="#f23645"/>
<line x1="606.2" y1="377" x2="606.2" y2="383.9" stroke="#f23645" stroke-width="1"/>
<rect x="604.6" y="379.3" width="3.2" height="1.1" fill="#f23645"/>
<line x1="611.1" y1="377" x2="611.1" y2="390.7" stroke="#f23645" stroke-width="1"/>
<rect x="609.5" y="379.3" width="3.2" height="3.4" fill="#f23645"/>
<line x1="615.9" y1="380.4" x2="615.9" y2="413.6" stroke="#f23645" stroke-width="1"/>
<rect x="614.3" y="381.6" width="3.2" height="25.2" fill="#f23645"/>
<line x1="620.7" y1="358.7" x2="620.7" y2="406.8" stroke="#089981" stroke-width="1"/>
<rect x="619.1" y="381.6" width="3.2" height="24" fill="#089981"/>
<line x1="625.5" y1="363.3" x2="625.5" y2="386.2" stroke="#089981" stroke-width="1"/>
<rect x="623.9" y="369" width="3.2" height="12.6" fill="#089981"/>
<line x1="630.3" y1="347.2" x2="630.3" y2="371.3" stroke="#089981" stroke-width="1"/>
<rect x="628.7" y="357.5" width="3.2" height="11.5" fill="#089981"/>
<line x1="635.1" y1="346.1" x2="635.1" y2="366.7" stroke="#089981" stroke-width="1"/>
<rect x="633.5" y="355.2" width="3.2" height="3.5" fill="#089981"/>
<line x1="639.9" y1="350.7" x2="639.9" y2="361" stroke="#f23645" stroke-width="1"/>
<rect x="638.3" y="356.4" width="3.2" height="2.3" fill="#f23645"/>
<line x1="644.7" y1="355.2" x2="644.7" y2="361" stroke="#f23645" stroke-width="1"/>
<rect x="643.1" y="357.5" width="3.2" height="1.2" fill="#f23645"/>
<line x1="649.5" y1="326.6" x2="649.5" y2="363.3" stroke="#089981" stroke-width="1"/>
<rect x="647.9" y="350.7" width="3.2" height="6.8" fill="#089981"/>
<line x1="654.3" y1="324.3" x2="654.3" y2="353" stroke="#089981" stroke-width="1"/>
<rect x="652.7" y="334.6" width="3.2" height="16.1" fill="#089981"/>
<line x1="659.2" y1="326.6" x2="659.2" y2="346.1" stroke="#f23645" stroke-width="1"/>
<rect x="657.6" y="334.6" width="3.2" height="4.6" fill="#f23645"/>
<line x1="664" y1="334.6" x2="664" y2="361" stroke="#f23645" stroke-width="1"/>
<rect x="662.4" y="336.9" width="3.2" height="21.8" fill="#f23645"/>
<line x1="668.8" y1="350.7" x2="668.8" y2="361" stroke="#089981" stroke-width="1"/>
<rect x="667.2" y="357.5" width="3.2" height="1.2" fill="#089981"/>
<line x1="673.6" y1="356.4" x2="673.6" y2="359.8" stroke="#089981" stroke-width="1"/>
<rect x="672" y="357.5" width="3.2" height="1" fill="#089981"/>
<line x1="678.4" y1="355.2" x2="678.4" y2="370.1" stroke="#f23645" stroke-width="1"/>
<rect x="676.8" y="357.5" width="3.2" height="11.5" fill="#f23645"/>
<line x1="683.2" y1="362.1" x2="683.2" y2="377" stroke="#089981" stroke-width="1"/>
<rect x="681.6" y="365.5" width="3.2" height="3.5" fill="#089981"/>
<line x1="688" y1="363.3" x2="688" y2="372.4" stroke="#f23645" stroke-width="1"/>
<rect x="686.4" y="365.5" width="3.2" height="3.5" fill="#f23645"/>
<line x1="692.8" y1="349.5" x2="692.8" y2="371.3" stroke="#089981" stroke-width="1"/>
<rect x="691.2" y="364.4" width="3.2" height="4.6" fill="#089981"/>
<line x1="697.6" y1="331.2" x2="697.6" y2="365.5" stroke="#089981" stroke-width="1"/>
<rect x="696" y="341.5" width="3.2" height="22.9" fill="#089981"/>
<line x1="702.4" y1="333.5" x2="702.4" y2="351.8" stroke="#f23645" stroke-width="1"/>
<rect x="700.8" y="341.5" width="3.2" height="2.3" fill="#f23645"/>
<line x1="707.3" y1="338" x2="707.3" y2="346.1" stroke="#089981" stroke-width="1"/>
<rect x="705.7" y="343.8" width="3.2" height="1" fill="#089981"/>
<line x1="712.1" y1="304.9" x2="712.1" y2="343.8" stroke="#089981" stroke-width="1"/>
<rect x="710.5" y="307.2" width="3.2" height="35.5" fill="#089981"/>
<line x1="716.9" y1="286.5" x2="716.9" y2="326.6" stroke="#f23645" stroke-width="1"/>
<rect x="715.3" y="307.2" width="3.2" height="17.1" fill="#f23645"/>
<line x1="721.7" y1="318" x2="721.7" y2="335.2" stroke="#f23645" stroke-width="1"/>
<rect x="720.1" y="323.8" width="3.2" height="3.4" fill="#f23645"/>
<line x1="726.5" y1="312.4" x2="726.5" y2="333" stroke="#089981" stroke-width="1"/>
<rect x="724.9" y="313.5" width="3.2" height="13.7" fill="#089981"/>
<line x1="731.3" y1="302" x2="731.3" y2="328.4" stroke="#f23645" stroke-width="1"/>
<rect x="729.7" y="313.5" width="3.2" height="13.7" fill="#f23645"/>
<line x1="736.1" y1="296.3" x2="736.1" y2="335.2" stroke="#089981" stroke-width="1"/>
<rect x="734.5" y="308.9" width="3.2" height="18.3" fill="#089981"/>
<line x1="740.9" y1="305.5" x2="740.9" y2="310" stroke="#089981" stroke-width="1"/>
<rect x="739.3" y="307.8" width="3.2" height="1.1" fill="#089981"/>
<line x1="745.7" y1="303.2" x2="745.7" y2="314.6" stroke="#f23645" stroke-width="1"/>
<rect x="744.1" y="306.6" width="3.2" height="4.6" fill="#f23645"/>
<line x1="750.5" y1="306.6" x2="750.5" y2="331.8" stroke="#f23645" stroke-width="1"/>
<rect x="748.9" y="308.9" width="3.2" height="12.6" fill="#f23645"/>
<line x1="755.4" y1="319.2" x2="755.4" y2="330.7" stroke="#f23645" stroke-width="1"/>
<rect x="753.8" y="321.5" width="3.2" height="6.9" fill="#f23645"/>
<line x1="760.2" y1="327.2" x2="760.2" y2="358.1" stroke="#f23645" stroke-width="1"/>
<rect x="758.6" y="328.4" width="3.2" height="17.1" fill="#f23645"/>
<line x1="765" y1="344.4" x2="765" y2="357" stroke="#f23645" stroke-width="1"/>
<rect x="763.4" y="345.5" width="3.2" height="4.6" fill="#f23645"/>
<line x1="769.8" y1="337.5" x2="769.8" y2="352.4" stroke="#089981" stroke-width="1"/>
<rect x="768.2" y="345.5" width="3.2" height="5.8" fill="#089981"/>
<line x1="774.6" y1="342.1" x2="774.6" y2="345.5" stroke="#f23645" stroke-width="1"/>
<rect x="773" y="343.3" width="3.2" height="1.1" fill="#f23645"/>
<line x1="779.4" y1="334.1" x2="779.4" y2="347.8" stroke="#089981" stroke-width="1"/>
<rect x="777.8" y="335.2" width="3.2" height="11.5" fill="#089981"/>
<line x1="784.2" y1="240.4" x2="784.2" y2="337.5" stroke="#089981" stroke-width="1"/>
<rect x="782.6" y="289.5" width="3.2" height="46.9" fill="#089981"/>
<line x1="789" y1="283.7" x2="789" y2="303.2" stroke="#f23645" stroke-width="1"/>
<rect x="787.4" y="289.5" width="3.2" height="3.4" fill="#f23645"/>
<line x1="793.8" y1="272.3" x2="793.8" y2="300.9" stroke="#f23645" stroke-width="1"/>
<rect x="792.2" y="291.8" width="3.2" height="3.4" fill="#f23645"/>
<line x1="798.6" y1="273.4" x2="798.6" y2="296.3" stroke="#089981" stroke-width="1"/>
<rect x="797" y="281.4" width="3.2" height="13.8" fill="#089981"/>
<line x1="803.5" y1="229.3" x2="803.5" y2="284.8" stroke="#089981" stroke-width="1"/>
<rect x="801.9" y="248.3" width="3.2" height="34.9" fill="#089981"/>
<line x1="808.3" y1="224.6" x2="808.3" y2="253.1" stroke="#089981" stroke-width="1"/>
<rect x="806.7" y="240.4" width="3.2" height="7.9" fill="#089981"/>
<line x1="813.1" y1="227.7" x2="813.1" y2="253.1" stroke="#089981" stroke-width="1"/>
<rect x="811.5" y="237.2" width="3.2" height="3.2" fill="#089981"/>
<line x1="817.9" y1="87.3" x2="817.9" y2="238.8" stroke="#089981" stroke-width="1"/>
<rect x="816.3" y="129.5" width="3.2" height="107.7" fill="#089981"/>
<line x1="822.7" y1="55.6" x2="822.7" y2="131.6" stroke="#089981" stroke-width="1"/>
<rect x="821.1" y="100" width="3.2" height="29.5" fill="#089981"/>
<line x1="827.5" y1="57.7" x2="827.5" y2="105.2" stroke="#089981" stroke-width="1"/>
<rect x="825.9" y="79.9" width="3.2" height="20.1" fill="#089981"/>
<line x1="832.3" y1="68.3" x2="832.3" y2="106.3" stroke="#f23645" stroke-width="1"/>
<rect x="830.7" y="80.3" width="3.2" height="11.2" fill="#f23645"/>
<line x1="837.1" y1="88.3" x2="837.1" y2="117.9" stroke="#f23645" stroke-width="1"/>
<rect x="835.5" y="92.1" width="3.2" height="8.9" fill="#f23645"/>
<line x1="841.9" y1="79.9" x2="841.9" y2="102" stroke="#089981" stroke-width="1"/>
<rect x="840.3" y="93.6" width="3.2" height="7.4" fill="#089981"/>
<line x1="846.7" y1="70.4" x2="846.7" y2="98.9" stroke="#089981" stroke-width="1"/>
<rect x="845.1" y="78.8" width="3.2" height="14.8" fill="#089981"/>
<line x1="851.6" y1="67.2" x2="851.6" y2="94.7" stroke="#f23645" stroke-width="1"/>
<rect x="850" y="77.8" width="3.2" height="2.5" fill="#f23645"/>
<line x1="856.4" y1="71.9" x2="856.4" y2="94.7" stroke="#089981" stroke-width="1"/>
<rect x="854.8" y="73.1" width="3.2" height="6.8" fill="#089981"/>
<line x1="861.2" y1="40.8" x2="861.2" y2="86.2" stroke="#089981" stroke-width="1"/>
<rect x="859.6" y="47.2" width="3.2" height="25.9" fill="#089981"/>
<line x1="866" y1="28.2" x2="866" y2="86.2" stroke="#f23645" stroke-width="1"/>
<rect x="864.4" y="47.2" width="3.2" height="16.9" fill="#f23645"/>
<line x1="870.8" y1="64.1" x2="870.8" y2="92.6" stroke="#f23645" stroke-width="1"/>
<rect x="869.2" y="64.1" width="3.2" height="9.5" fill="#f23645"/>
<polyline points="5,270.8 9.8,270.8 14.6,270.8 19.4,280 24.2,284.3 29,301 33.9,301.5 38.7,302 43.5,309.5 48.3,309.5 53.1,309.5 57.9,309.5 62.7,309.5 67.5,309.5 72.3,309.5 77.1,311.5 82,311.5 86.8,311.5 91.6,311.5 96.4,311.5 101.2,311.5 106,311.5 110.8,311.5 115.6,312.7 120.4,312.7 125.2,324.4 130.1,335.2 134.9,337.6 139.7,337.6 144.5,344.8 149.3,345.6 154.1,345.6 158.9,345.6 163.7,345.6 168.5,345.6 173.3,345.6 178.2,345.6 183,345.6 187.8,354.5 192.6,355.4 197.4,355.4 202.2,355.4 207,355.4 211.8,355.4 216.6,355.4 221.4,314.7 226.3,314.7 231.1,302.4 235.9,302.4 240.7,302.4 245.5,302.4 250.3,302.4 255.1,302.4 259.9,302.4 264.7,302.4 269.5,302.4 274.4,302.4 279.2,302.4 284,302.4 288.8,302.4 293.6,301.5 298.4,301.5 303.2,301.5 308,301.5 312.8,301.5 317.6,294.4 322.5,276.9 327.3,271.1 332.1,270.2 336.9,261.4 341.7,234.8 346.5,213.4 351.3,213.4 356.1,213.4 360.9,213.4 365.7,213.4 370.6,213.4 375.4,213.4 380.2,225.1 385,225.1 389.8,225.1 394.6,225.1 399.4,225.1 404.2,225.1 409,225.1 413.8,225.1 418.7,229.4 423.5,229.4 428.3,229.4 433.1,229.4 437.9,229.4 442.7,229.4 447.5,229.4 452.3,233 457.1,253.7 461.9,253.7 466.8,254.1 471.6,254.1 476.4,254.1 481.2,254.1 486,255.4 490.8,255.4 495.6,295.4 500.4,309.4 505.2,309.4 510,309.4 514.9,309.4 519.7,314.2 524.5,314.2 529.3,314.2 534.1,314.2 538.9,314.2 543.7,314.2 548.5,314.2 553.3,314.2 558.1,314.2 563,314.2 567.8,314.2 572.6,314.2 577.4,316.1 582.2,323.1 587,323.9 591.8,323.9 596.6,323.9 601.4,323.9 606.2,327.5 611.1,331.9 615.9,346.8 620.7,357.9 625.5,357.9 630.3,357.9 635.1,357.9 639.9,357.9 644.7,357.9 649.5,357.9 654.3,357.9 659.2,357.9 664,357.9 668.8,357.9 673.6,357.9 678.4,364.1 683.2,368.4 688,369 692.8,369 697.6,369 702.4,369 707.3,369 712.1,359.2 716.9,350.1 721.7,350.1 726.5,350.1 731.3,350.1 736.1,350.1 740.9,346.6 745.7,336.4 750.5,331.8 755.4,331.8 760.2,331.8 765,331.8 769.8,331.8 774.6,331.8 779.4,331.8 784.2,308.7 789,308.7 793.8,308.7 798.6,308.7 803.5,303.1 808.3,298.5 813.1,297.9 817.9,226.4 822.7,206.9 827.5,206.9 832.3,206.9 837.1,206.9 841.9,206.9 846.7,206.9 851.6,206.9 856.4,206.9 861.2,199.5 866,193.2 870.8,193.2" fill="none" stroke="#b71c1c" stroke-width="1.15"/>
<polyline points="5,282 9.8,284 14.6,286 19.4,291 24.2,297 29,312 33.9,312.5 38.7,312.8 43.5,324 48.3,335 53.1,339 57.9,345 62.7,349 67.5,350.7 72.3,341 77.1,340.4 82,340.4 86.8,352.3 91.6,351.5 96.4,351.5 101.2,351.5 106,336 110.8,336 115.6,335.7 120.4,335.7 125.2,335.7 130.1,336.3 134.9,328 139.7,325 144.5,344.8 149.3,345.6 154.1,354.8 158.9,356.5 163.7,363.8 168.5,363.8 173.3,363.8 178.2,363.8 183,364.2 187.8,373.1 192.6,373.9 197.4,383.7 202.2,383.7 207,384.1 211.8,379.8 216.6,355.4 221.4,314.7 226.3,314.7 231.1,302.4 235.9,295.3 240.7,277.7 245.5,277.7 250.3,276.9 255.1,268 259.9,241.4 264.7,220 269.5,220 274.4,223.1 279.2,221.3 284,221.3 288.8,221.3 293.6,219.1 298.4,219.1 303.2,219.1 308,215.3 312.8,215.3 317.6,215.3 322.5,215.3 327.3,209.6 332.1,209.6 336.9,209.6 341.7,205.2 346.5,210.1 351.3,212.6 356.1,212.6 360.9,212.6 365.7,212.6 370.6,216.2 375.4,236.8 380.2,249.2 385,249.7 389.8,249.7 394.6,249.7 399.4,249.7 404.2,251.1 409,251.1 413.8,251.1 418.7,259.9 423.5,261.2 428.3,261.2 433.1,261.2 437.9,261.2 442.7,261.2 447.5,261.2 452.3,257.6 457.1,257.6 461.9,255.9 466.8,255.9 471.6,255.9 476.4,255.9 481.2,255.9 486,255.9 490.8,255.8 495.6,299.4 500.4,318.2 505.2,319.1 510,319.1 514.9,319.1 519.7,323.9 524.5,327.5 529.3,331.9 534.1,339.8 538.9,373.6 543.7,374.2 548.5,374.2 553.3,350.9 558.1,350.9 563,344.7 567.8,350.9 572.6,350.9 577.4,350.9 582.2,350.9 587,350.9 591.8,350.9 596.6,357 601.4,361.3 606.2,381.1 611.1,379.8 615.9,388.1 620.7,386.1 625.5,386.1 630.3,380.4 635.1,379.9 639.9,379.9 644.7,379.9 649.5,370.1 654.3,369 659.2,365.6 664,355.2 668.8,347.8 673.6,345.5 678.4,347.2 683.2,350.6 688,350.6 692.8,350.6 697.6,351.8 702.4,354.1 707.3,354.1 712.1,340.9 716.9,331.8 721.7,331.8 726.5,329.4 731.3,328.9 736.1,326 740.9,319.1 745.7,316.3 750.5,315.1 755.4,310.9 760.2,327.2 765,327.2 769.8,327.2 774.6,327.2 779.4,330.6 784.2,299.2 789,299.2 793.8,299.2 798.6,299.2 803.5,293.1 808.3,288.5 813.1,286.2 817.9,217.6 822.7,196.6 827.5,179.4 832.3,178.2 837.1,176 841.9,170.2 846.7,154.3 851.6,154.3 856.4,147.2 861.2,86.2 866,73 870.8,73" fill="none" stroke="#2962ff" stroke-width="1.15"/>
<polyline points="5,347.5 9.8,331.8 14.6,338.8 19.4,333 24.2,386.3 29,333.5 33.9,364.3 38.7,359 43.5,361.7 48.3,382 53.1,378.4 57.9,379.6 62.7,378.5 67.5,407.5 72.3,391.6 77.1,364.3 82,359 86.8,366.1 91.6,346.7 96.4,295.2 101.2,236 106,240.4 110.8,212.3 115.6,217.5 120.4,219.3 125.2,227.2 130.1,212.3 134.9,234.3 139.7,221 144.5,220.2 149.3,216.1 154.1,215.4 158.9,196 163.7,209.6 168.5,219.3 173.3,240.4 178.2,224.6 183,226 187.8,230.7 192.6,221.9 197.4,214.9 202.2,223.7 207,185 211.8,225.5 216.6,227.2 221.4,228.1 226.3,231.6 231.1,241.3 235.9,239.5 240.7,243.1 245.5,239.5 250.3,243.1 255.1,234.3 259.9,266.1 264.7,261.7 269.5,259 274.4,264.3 279.2,260.8 284,259 288.8,262.6 293.6,263.5 298.4,246.7 303.2,266.1 308,260.8 312.8,269.6 317.6,270.5 322.5,271.4 327.3,264.3 332.1,244.9 336.9,252.8 341.7,256.3 346.5,261.6 351.3,257.2 356.1,261.6 360.9,257.2 365.7,266 370.6,281.9 375.4,354 380.2,374.9 385,371.2 389.8,370 394.6,372.4 399.4,374.9 404.2,361.3 409,371.2 413.8,374.9 418.7,376.1 423.5,372.4 428.3,372.4 433.1,315.7 437.9,331.8 442.7,378.6 447.5,383.5 452.3,379.8 457.1,376.1 461.9,382.3 466.8,383.5 471.6,384.8 476.4,367.5 481.2,379.8 486,380.4 490.8,382.7 495.6,406.8 500.4,381.6 505.2,369 510,357.5 514.9,355.2 519.7,358.7 524.5,358.7 529.3,350.7 534.1,334.6 538.9,339.2 543.7,358.7 548.5,357.5 553.3,357.5 558.1,369 563,365.5 567.8,369 572.6,364.4 577.4,341.5 582.2,343.8 587,343.8 591.8,307.2 596.6,324.3 601.4,327.2 606.2,313.5 611.1,327.2 615.9,308.9 620.7,307.8 625.5,311.2 630.3,321.5 635.1,328.4 639.9,345.5 644.7,350.1 649.5,345.5 654.3,344.4 659.2,335.2 664,289.5 668.8,292.9 673.6,295.2 678.4,281.4 683.2,248.3 688,240.4 692.8,237.2 697.6,129.5 702.4,100 707.3,79.9 712.1,91.5 716.9,101 721.7,93.6 726.5,78.8 731.3,80.3 736.1,73.1 740.9,47.2 745.7,64.1 750.5,73.6" fill="none" stroke="#3a9a40" stroke-width="2" stroke-linejoin="round"/>
<line x1="5" y1="183" x2="1013.6" y2="5.9" stroke="#131722" stroke-width="1.5"/>
<line x1="486.4" y1="442.4" x2="1046" y2="302.5" stroke="#131722" stroke-width="1.5"/>
<line x1="813.4" y1="144.9" x2="880" y2="70.4" stroke="#131722" stroke-width="1.5"/>
<line x1="918" y1="32.3" x2="1046" y2="32.3" stroke="#9c27b0" stroke-width="1.6"/>
<line x1="1046" y1="38.6" x2="1093" y2="38.6" stroke="#9c27b0" stroke-width="1.6"/>
<line x1="918" y1="77.7" x2="990" y2="77.7" stroke="#9c27b0" stroke-width="1.6"/>
<line x1="5" y1="443" x2="1100" y2="443" stroke="#e0e3eb" stroke-width="1"/>
<rect x="5" y="465" width="1041" height="49.5" fill="rgba(33,150,243,0.1)"/>
<line x1="5" y1="465" x2="1046" y2="465" stroke="#6f727c" stroke-width="1.2" stroke-dasharray="4.5,5.5" stroke-dashoffset="3.4"/>
<line x1="5" y1="489.8" x2="1046" y2="489.8" stroke="#b4b7bf" stroke-width="1.2" stroke-dasharray="4.5,5.5" stroke-dashoffset="3.4"/>
<line x1="5" y1="514.4" x2="1046" y2="514.4" stroke="#6f727c" stroke-width="1.2" stroke-dasharray="4.5,5.5" stroke-dashoffset="3.4"/>
<line x1="5" y1="531.5" x2="1046" y2="531.5" stroke="#eff1f5" stroke-width="1"/>
<polyline points="4.2,480.1 11.7,506.9 19.2,531.1 33.4,531 41.8,523.6 50.2,514.4 63.5,508.6 73.6,495.2 81.9,477.6 88.6,488.5 96.2,501 100.3,488.5 106.2,463.4 111,452 117,461.7 120.4,469.3 127.1,485.2 133.8,491.8 138.8,488.5 144.6,503.2 148.8,497.7 153.8,501.9 158.9,490.2 167.2,498.5 175,505.2 178.3,507.7 182.5,503.5 187.5,511.9 191.7,511.1 198.4,496.9 202.6,476.8 207.6,456.7 212.6,452.5 216.8,450.9 221.8,448 230.2,449.2 241.9,451.7 246.9,454.2 251.9,455.9 257,461.7 262,466.8 265.3,470.9 268.6,470.1 278.7,470.9 283.7,485.2 288.7,503.5 293.7,527 298.7,524.4 305.4,518.6 312.1,516.9 317.1,512.7 323,510.2 327.2,496.9 331.4,505.2 336.4,510.2 341.4,531.1 360,530.3 366.7,528.6 371.7,528.6 375.1,523.6 380.1,525.3 385.1,524.4 390.1,527 395.2,525.3 400.2,520.3 406.9,513.6 410.2,512.7 415.2,514.4 418.6,498.5 423.6,498.5 428.6,497.7 433.6,520.3 442,528.6 448.7,520.3 457,475.1 462,468.4 467.1,481 477.1,491.8 482.1,491.8 488.8,501.9 495.5,523.6 500.5,531.1 505.5,530.3 513.9,527 518.9,526.1 525,519.4 534.2,510.2 541.7,511.9 549.2,509.4 553.4,491.8 558.4,470.9 562.6,465.1 567.6,479.3 573.5,489.3 581.9,489.3 591.9,495.2 598.6,490.2 606.9,484.3 611.1,486.8 616.1,503.5 621.2,498.5 625.3,488.5 630.4,456.7 635.4,448.4 640.4,448.7 645.4,450 658.8,450 667.1,463.4 673.8,476 678.8,481.8 685.5,498.5 692.2,520.3 698.9,501.9 707.5,465.9 712.5,461.4 718.4,464.2 726.8,475.1 732.6,478.5 736.8,475.1 741.8,475.1 746,469.3 750.2,473.4 756.9,490.2 763.5,508.6 770.2,528.6 775.3,526.1 780.3,513.6 788.6,469.3 794.5,454.2 798.7,454.2 808.7,448 817.1,448 828.8,448.4 838.8,456.7 847.2,464.2 857.2,465.9 861.4,464.2 865.6,473.4 870.9,496.9" fill="none" stroke="#2962ff" stroke-width="1.4" stroke-linejoin="round"/>
<polyline points="4.2,472.6 11.7,495.2 16.7,515.3 23.4,527 30.1,531.1 38.5,529.5 48.5,520.3 63.5,510.2 75.3,495.2 85.3,483.8 92,486 98.7,493.5 105.4,480.1 113.7,461.7 117,456 123.7,469.3 132.1,485.2 138.8,490.2 145.5,494.3 153.8,499.4 160.5,496 168.9,496.9 175,502.7 181.7,506 190,508.6 196.7,506.9 201.8,491.8 206.8,473.4 211.8,460.1 218.5,452.5 225.2,449.7 231.9,448.7 240.2,450 248.6,453.4 257,458.4 263.6,464.2 268.6,468.4 275.3,470.4 279.5,470.9 285.4,481.8 290.4,493.5 295.4,510.2 299.6,521.9 303.8,523.6 312.1,518.6 322.2,513.6 327.2,506.9 333.9,504.4 337.2,505.2 342.2,516.9 348.9,528.6 355,531.1 360,530.3 368.4,529.5 376.8,526.1 385.1,524.4 391.8,526.1 398.5,524.4 406.9,517.8 413.5,514.4 420.2,506.9 427.8,498.5 433.6,506.9 440.3,521.9 446.2,525.3 452,513.6 458.7,491.8 463.7,476.8 467.1,475.1 472.1,479.3 478.8,487.7 483.8,490.2 490.5,498.5 497.2,513.6 503.8,527 510.5,529.5 518.9,527 525,523.6 533.4,515.3 540,511.9 548.4,510.2 556.8,490.2 563.5,473.4 567.6,471.8 573.5,477.6 578.5,486 585.2,489.3 595.2,493.5 606.9,486 612,488.5 618.6,496.9 625.3,496.9 632,476.8 638.7,455.9 642.1,450 658.8,449.2 665.5,455 672.2,465.1 680.5,480.1 688.9,496.9 693.9,510.2 698.9,511.9 705,491.8 711.7,470.1 716.7,463.4 721.7,465.1 728.4,471.8 735.1,476 741.8,475.1 748.5,471.8 755.2,476.8 761.9,491.8 768.6,513.6 773.6,527 778.6,524.4 785.3,506.9 793.6,478.5 800.3,456.7 808.7,450.9 817.1,448.4 830.4,448.4 838.8,453.4 848.8,461.7 855.5,465.1 861.4,465.1 867.2,470.1 871.4,479.3" fill="none" stroke="#f47b20" stroke-width="1.4" stroke-linejoin="round"/>
<line x1="5" y1="563.5" x2="1100" y2="563.5" stroke="#e0e3eb" stroke-width="1.2"/>
</svg>
<!-- borders -->
<div class="abs" style="left:0;top:3px;width:1100px;height:4px;background:#e1e1e6"></div>
<div class="abs" style="left:1px;top:3px;width:4px;height:565px;background:#e1e1e6"></div>
<!-- header -->
<div class="abs" style="left:5px;top:33px;width:134px;height:28px;background:#fff"></div>
<div class="abs" style="left:5px;top:11px;width:651px;height:21px;background:#fff"></div>
<div class="abs" style="left:13px;top:13px;width:16.4px;height:16.4px;border-radius:50%;background:#f7931a"></div>
<div class="abs" style="left:13px;top:13px;width:16.4px;height:16.4px;font-size:11px;font-weight:bold;color:#fff;line-height:16.4px;text-align:center;transform:rotate(14deg)">&#8383;</div>
<div class="abs" style="left:34px;top:13.6px;font-size:14.65px;line-height:17px">Bitcoin / U.S. Dollar · 1D · BITSTAMP</div>
<svg width="1100" height="40" style="position:absolute;left:0;top:0">
<path d="M288 16 H299 L295.8 21.5 L299 27 H288 Z" fill="#f23645"/>
<circle cx="325.4" cy="21.3" r="7" fill="#dff3ee"/>
<circle cx="325.4" cy="21.3" r="3.7" fill="#089981"/>
</svg>
<div class="abs" style="left:348.5px;top:14px;font-size:13px;line-height:15px;color:#f23645">
<span style="color:#131722">O</span>34947<span style="color:#131722;margin-left:8.5px">H</span>34947<span style="color:#131722;margin-left:8.5px">L</span>34132<span style="color:#131722;margin-left:8.5px">C</span>34659<span style="margin-left:5.5px">−278 (−0.80%)</span></div>
<div class="abs" style="left:12px;top:36.5px;width:50.5px;height:20px;border:1px solid #f23645;border-radius:4px;font-size:13px;line-height:20px;text-align:center;color:#f23645;background:#fff">34654</div>
<div class="abs" style="left:73px;top:42.5px;font-size:10px;font-weight:bold;line-height:14px;color:#131722;background:#fff">5</div>
<div class="abs" style="left:86.5px;top:36.5px;width:50.5px;height:20px;border:1px solid #2962ff;border-radius:4px;font-size:13px;line-height:20px;text-align:center;color:#2962ff;background:#fff">34659</div>
<div class="abs" style="left:13.4px;top:67px;font-size:13px;line-height:15px"><span style="background:#fff">Ichimoku</span> <span style="color:#2962ff;margin-left:4px;background:#fff">34688</span> <span style="color:#b71c1c;margin-left:3px;background:#fff">31251</span> <span style="color:#43a047;margin-left:3px;background:#fff">34659</span> <span style="color:#a5d6a7;margin-left:3px;background:#fff">32969</span> <span style="color:#ef9a9a;margin-left:3px;background:#fff">30865</span></div>
<div class="abs" style="left:13px;top:87px;width:26px;height:18px;border:1px solid #e0e3eb;border-radius:4px;background:#fff;box-shadow:0 1px 1px rgba(0,0,0,0.08)"></div>
<svg width="20" height="10" style="position:absolute;left:17px;top:92px"><path d="M5.5 7 L10 2.8 L14.5 7" fill="none" stroke="#131722" stroke-width="1.6"/></svg>
<!-- right top -->
<div class="abs" style="left:1049.5px;top:10.5px;width:46px;height:22px;border:1px solid #e0e3eb;border-radius:4px;background:#fff"></div>
<div class="abs" style="left:1053.5px;top:16px;font-size:11.8px;line-height:14px">USD</div>
<svg width="10" height="8" style="position:absolute;left:1086px;top:18px"><path d="M2 2.5 L5 5.5 L8 2.5" fill="none" stroke="#131722" stroke-width="1.3"/></svg>
<div class="abs" style="left:987px;top:22px;width:9px;height:8px;background:#2f7dc2;color:#fff;font-size:8px;font-weight:bold;line-height:8px;text-align:center">2</div>
<div class="abs" style="left:988px;top:72px;width:4px;height:8px;background:#2f7dc2"></div>
<div class="abs" style="left:991px;top:67px;width:54px;height:15px;background:#f23645;border-radius:2px 0 0 2px;color:#fff;font-size:12px;line-height:15px;text-align:center">BTCUSD</div>
<div class="abs" style="left:1046px;top:66.5px;width:47px;height:29.5px;background:#f23645;color:#fff;font-size:12px;line-height:14px;text-align:center;padding-top:0.5px;box-sizing:border-box;padding-left:1px"><div>34659</div><div>37:08</div></div>
<div class="abs" style="left:1046px;top:96px;width:47px;height:15px;background:#9c27b0;color:#fff;font-size:12px;line-height:15px;text-align:center">34551</div>
<!-- price axis -->
<div class="ax" style="top:55px">35000</div>
<div class="ax" style="top:125px">33000</div>
<div class="ax" style="top:160px">32000</div>
<div class="ax" style="top:195px">31000</div>
<div class="ax" style="top:230px">30000</div>
<div class="ax" style="top:265px">29000</div>
<div class="ax" style="top:300px">28000</div>
<div class="ax" style="top:335px">27000</div>
<div class="ax" style="top:370px">26000</div>
<div class="ax" style="top:405px">25000</div>
<div class="ax" style="top:458px">80.00</div>
<div class="ax" style="top:491px">40.00</div>
<div class="ax" style="top:524.5px">0.00</div>
<!-- stoch label -->
<div class="abs" style="left:13.5px;top:452px;font-size:12.2px;line-height:14px;background:rgba(255,255,255,0.85)">Stoch RSI</div>
<div class="abs" style="left:75.8px;top:451.5px;font-size:13px;line-height:14px;color:#2962ff;background:rgba(255,255,255,0.85)">42.06</div>
<div class="abs" style="left:114.6px;top:451.5px;font-size:13px;line-height:14px;color:#ff6d00;background:rgba(255,255,255,0.85)">63.18</div>
<!-- logo -->
<svg width="34" height="22" style="position:absolute;left:12px;top:505px">
<path d="M4.2 5.1 H14.5 V18.7 H9.5 V10.8 H4.2 Z" fill="#131722"/>
<circle cx="19.8" cy="7.9" r="2.4" fill="#131722"/>
<path d="M24.9 5.1 H31 L26.4 18.7 H20.2 Z" fill="#131722"/>
</svg>
<div class="abs" style="left:50px;top:507px;font-size:19.3px;font-weight:bold;line-height:22px;color:#131722;">TradingView</div>
<!-- time axis -->
<div class="tx" style="left:115.5px;top:543.5px">Jun</div>
<div class="tx" style="left:261.8px;top:543.5px">Jul</div>
<div class="tx" style="left:408px;top:543.5px">Aug</div>
<div class="tx" style="left:557px;top:543.5px">Sep</div>
<div class="tx" style="left:702px;top:543.5px">Oct</div>
<div class="tx" style="left:851px;top:543.5px">Nov</div>
<div class="tx" style="left:995px;top:543.5px">Dec</div>
<svg width="16" height="16" style="position:absolute;left:1066px;top:542px">
<path d="M4.5 2.2 H11.5 L15 8 L11.5 13.8 H4.5 L1 8 Z" fill="none" stroke="#131722" stroke-width="1.3"/>
<circle cx="8" cy="8" r="2" fill="none" stroke="#131722" stroke-width="1.3"/>
</svg>
</body></html>
